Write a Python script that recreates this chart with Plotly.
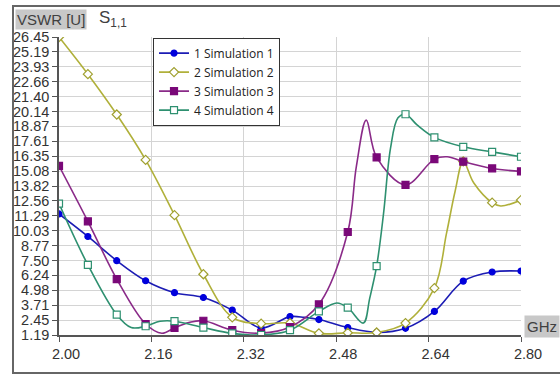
import plotly.graph_objects as go

# ---------------- data ----------------
freq_grid = [2.00, 2.05, 2.10, 2.15, 2.20, 2.25, 2.30, 2.35, 2.40,
             2.45, 2.50, 2.55, 2.60, 2.65, 2.70, 2.75, 2.80]

sim1_vswr = [11.45, 9.54, 7.49, 5.79, 4.78, 4.37, 3.30, 1.79, 2.75,
             2.50, 1.82, 1.41, 1.76, 3.19, 5.76, 6.53, 6.61]
sim1_extra_freq = [2.425]
sim1_extra_vswr = [2.68]

sim2_vswr = [26.45, 23.30, 19.88, 16.03, 11.35, 6.34, 2.69, 2.15, 2.20,
             1.33, 1.38, 1.40, 2.20, 5.16, 15.90, 12.41, 12.63]
sim2_extra_freq = [2.671, 2.686, 2.718, 2.765]
sim2_extra_vswr = [9.8, 13.4, 14.1, 12.12]

sim3_vswr = [15.53, 10.82, 5.93, 2.12, 1.79, 2.40, 1.60, 1.35, 1.87,
             3.79, 9.92, 16.24, 13.92, 16.10, 15.89, 15.31, 15.06]
sim3_extra_freq = [2.178, 2.225, 2.515, 2.532, 2.672]
sim3_extra_vswr = [1.34, 2.25, 15.5, 19.4, 16.3]

sim4_vswr = [12.33, 7.13, 2.91, 1.93, 2.36, 1.82, 1.33, 1.19, 1.60,
             3.19, 3.51, 7.02, 19.90, 17.94, 17.14, 16.71, 16.30]
sim4_extra_freq = [2.125, 2.175, 2.481, 2.527, 2.538, 2.562, 2.574, 2.587, 2.62]
sim4_extra_vswr = [1.82, 2.35, 3.90, 2.20, 4.30, 11.5, 17.0, 19.6, 19.0]

series_names = ["1 Simulation 1", "2 Simulation 2", "3 Simulation 3", "4 Simulation 4"]

y_tick_labels = ["26.45", "25.19", "23.93", "22.66", "21.40", "20.14", "18.87",
                 "17.61", "16.35", "15.08", "13.82", "12.56", "11.29", "10.03",
                 "8.77", "7.50", "6.24", "4.98", "3.71", "2.45", "1.19"]
x_tick_vals = [2.00, 2.16, 2.32, 2.48, 2.64, 2.80]

# ---------------- styles ----------------
styles = [
    dict(line="#1c1cb4", mcolor="#0000dc", mline="#0000dc", symbol="circle", size=6),
    dict(line="#b0b03a", mcolor="#ffffff", mline="#a0a030", symbol="diamond", size=7),
    dict(line="#8a2a88", mcolor="#7a0878", mline="#7a0878", symbol="square", size=7),
    dict(line="#2e9070", mcolor="#ffffff", mline="#2e9070", symbol="square", size=7),
]

all_vals = [sim1_vswr, sim2_vswr, sim3_vswr, sim4_vswr]
extra_f = [sim1_extra_freq, sim2_extra_freq, sim3_extra_freq, sim4_extra_freq]
extra_v = [sim1_extra_vswr, sim2_extra_vswr, sim3_extra_vswr, sim4_extra_vswr]

fig = go.Figure()

for name, vals, ef, ev, st in zip(series_names, all_vals, extra_f, extra_v, styles):
    pts = sorted(list(zip(freq_grid, vals)) + list(zip(ef, ev)))
    fig.add_trace(go.Scatter(
        x=[p[0] for p in pts], y=[p[1] for p in pts], mode="lines",
        line=dict(color=st["line"], width=1.6, shape="spline", smoothing=1.0),
        showlegend=False, hoverinfo="skip"))
    fig.add_trace(go.Scatter(
        x=freq_grid, y=vals, mode="markers",
        marker=dict(symbol=st["symbol"], size=st["size"], color=st["mcolor"],
                    line=dict(color=st["mline"], width=1.2)),
        showlegend=False))
    fig.add_trace(go.Scatter(
        x=[None], y=[None], mode="lines+markers", name=name,
        line=dict(color=st["line"], width=1.6),
        marker=dict(symbol=st["symbol"], size=st["size"], color=st["mcolor"],
                    line=dict(color=st["mline"], width=1.2))))

y_tick_vals = [float(v) for v in y_tick_labels]

fig.update_layout(
    width=560, height=374,
    margin=dict(l=58.5, r=38.7, t=37.3, b=29),
    paper_bgcolor="white", plot_bgcolor="white",
    font=dict(family="Liberation Sans, Arial, sans-serif", color="#333333", size=14.5),
    showlegend=True,
    legend=dict(x=0.2035, y=0.998, xanchor="left", yanchor="top",
                bgcolor="white", bordercolor="#333333", borderwidth=1,
                font=dict(family="Open Sans, sans-serif", size=12, color="#222222"),
                itemwidth=30, tracegroupgap=0),
    xaxis=dict(range=[2.0, 2.8], tickvals=x_tick_vals,
               ticktext=[f"{v:.2f}" for v in x_tick_vals],
               showgrid=True, gridcolor="#d4d4d4", gridwidth=1,
               showline=True, linecolor="#555555", linewidth=1.5,
               ticks="outside", ticklen=5, tickcolor="#555555",
               ticklabelshift=7, zeroline=False),
    yaxis=dict(range=[1.19, 26.45], tickvals=y_tick_vals, ticktext=y_tick_labels,
               showgrid=True, gridcolor="#d4d4d4", gridwidth=1,
               showline=True, linecolor="#555555", linewidth=1.5,
               ticks="outside", ticklen=5, tickcolor="#555555",
               zeroline=False),
)

# frame around the widget (left, top, bottom edges; right edge lies off-page)
fig.add_annotation(xref="paper", yref="paper", x=-0.1026, y=1.1082,
                   xanchor="left", yanchor="top", text=" ", showarrow=False,
                   width=640, height=365, borderpad=0,
                   bordercolor="#666666", borderwidth=2,
                   bgcolor="rgba(0,0,0,0)")

# header texts
fig.add_annotation(xref="paper", yref="paper", x=-0.0962, y=1.0578,
                   text="VSWR [U]", showarrow=False, bgcolor="#c8c8c8",
                   borderpad=1, font=dict(size=15, color="#404040"),
                   xanchor="left", yanchor="middle")
fig.add_annotation(xref="paper", yref="paper", x=0.0832, y=1.0595,
                   text="S<sub>1,1</sub>", showarrow=False,
                   font=dict(size=17, color="#404040"),
                   xanchor="left", yanchor="middle")
fig.add_annotation(xref="paper", yref="paper", x=1.0059, y=0.029,
                   text="GHz", showarrow=False, bgcolor="#c8c8c8",
                   borderpad=2, font=dict(size=15, color="#404040"),
                   xanchor="left", yanchor="middle")

fig.write_html(
    "out.html",
    config={"displayModeBar": False},
    post_script="document.body.style.margin='0';document.body.style.overflow='hidden';",
)
